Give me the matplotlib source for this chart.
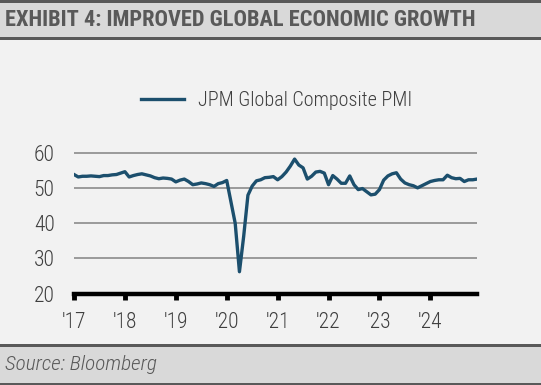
from matplotlib import pyplot as plt
from matplotlib.patches import Rectangle
import numpy as np

# JPM Global Composite PMI, monthly Jan 2017 - Dec 2024
years = [2017, 2018, 2019, 2020, 2021, 2022, 2023, 2024]
pmi_2017 = [53.9, 53.2, 53.4, 53.4, 53.5, 53.4, 53.3, 53.6, 53.6, 53.8, 53.9, 54.3]
pmi_2018 = [54.7, 53.2, 53.6, 53.9, 54.1, 53.8, 53.5, 53.0, 52.7, 52.9, 52.8, 52.6]
pmi_2019 = [51.8, 52.3, 52.6, 51.9, 51.0, 51.2, 51.5, 51.3, 51.0, 50.5, 51.3, 51.6]
pmi_2020 = [52.2, 46.1, 40.0, 26.2, 36.3, 48.0, 50.6, 52.1, 52.4, 53.0, 53.1, 53.3]
pmi_2021 = [52.4, 53.3, 54.6, 56.3, 58.3, 56.6, 55.8, 52.6, 53.4, 54.6, 54.8, 54.3]
pmi_2022 = [51.0, 53.6, 52.6, 51.4, 51.4, 53.5, 51.0, 49.6, 49.9, 49.0, 48.1, 48.3]
pmi_2023 = [49.6, 52.3, 53.5, 54.1, 54.4, 52.6, 51.5, 51.0, 50.7, 50.1, 50.7, 51.3]
pmi_2024 = [51.9, 52.2, 52.4, 52.4, 53.7, 53.0, 52.7, 52.8, 51.9, 52.4, 52.4, 52.6]
yticks = [20, 30, 40, 50, 60]
xtick_labels = ["'17", "'18", "'19", "'20", "'21", "'22", "'23", "'24"]
series_name = 'JPM Global Composite PMI'

pmi = pmi_2017 + pmi_2018 + pmi_2019 + pmi_2020 + pmi_2021 + pmi_2022 + pmi_2023 + pmi_2024
t = years[0] + np.arange(len(pmi)) / 12

W, H = 541, 385
narrow = ['Roboto Condensed', 'Liberation Sans Narrow', 'Roboto', 'DejaVu Sans']
dark = '#595959'
text_col = '#3f3f3f'
line_col = '#1c4f6d'

fig = plt.figure(figsize=(W / 100, H / 100), dpi=100, facecolor='#f2f2f2')

def fy(px):
    return 1 - px / H

def fit_width(txt, target_px):
    # shrink/grow a text so it spans the same width as in the reference
    r = fig.canvas.get_renderer()
    w = txt.get_window_extent(r).width
    txt.set_fontsize(txt.get_fontsize() * target_px / w)

def band(y_top_px, h_px, color):
    fig.patches.append(Rectangle((0, fy(y_top_px + h_px)), 1, h_px / H,
                                 transform=fig.transFigure,
                                 facecolor=color, edgecolor='none'))

# title band
band(0, 39, '#d9d9d9')
band(0, 2.5, dark)
band(37, 2.5, dark)
title = fig.text(5 / W, fy(20), 'EXHIBIT 4: IMPROVED GLOBAL ECONOMIC GROWTH',
                 family=narrow, fontweight='bold', fontsize=18, color=dark,
                 ha='left', va='center')
fit_width(title, 472)

# source band
band(344, 41, '#d9d9d9')
band(344, 2.5, dark)
band(383, 2, dark)
src = fig.text(5 / W, fy(364), 'Source: Bloomberg', family=narrow, style='italic',
               fontweight='light', fontsize=15, color=dark,
               ha='left', va='center')
fit_width(src, 152)

# plot axes
x0, x1 = 74, 477
yb = 293.5
px_per_unit = 3.51
ytop = 62
ax = fig.add_axes([x0 / W, fy(yb), (x1 - x0) / W, (ytop - 20) * px_per_unit / H])
ax.set_facecolor('none')
ax.set_xlim(t[0], t[-1])
ax.set_ylim(20, ytop)

for y in yticks[1:]:
    ax.axhline(y, color='#9a9a9a', linewidth=1.4, zorder=1)
ax.plot(t, pmi, color=line_col, linewidth=2.4, label=series_name, zorder=3,
        solid_joinstyle='round')

for s in ['top', 'right', 'left']:
    ax.spines[s].set_visible(False)
ax.spines['bottom'].set_linewidth(3.2)
ax.spines['bottom'].set_color('black')
ax.spines['bottom'].set_capstyle('projecting')

ax.set_xticks(years)
ax.set_xticklabels(xtick_labels)
ax.set_yticks(yticks)
ax.tick_params(axis='x', direction='out', length=4, width=3.5, color='black',
               pad=9, labelsize=15.5, labelcolor=text_col)
ax.tick_params(axis='y', length=0, pad=14, labelsize=15.5, labelcolor=text_col)
for lab in ax.get_xticklabels() + ax.get_yticklabels():
    lab.set_family(narrow)
    lab.set_fontweight('light')

leg = ax.legend(loc='center left', bbox_to_anchor=(141 / W, fy(100.5)),
                bbox_transform=fig.transFigure, frameon=False,
                handlelength=2.2, handletextpad=0.72, borderpad=0,
                borderaxespad=0, prop={'family': narrow, 'size': 14})
for txt in leg.get_texts():
    txt.set_color(text_col)
    txt.set_fontweight('light')
fit_width(leg.get_texts()[0], 214)

fig.savefig('out.png', dpi=100, facecolor=fig.get_facecolor())
